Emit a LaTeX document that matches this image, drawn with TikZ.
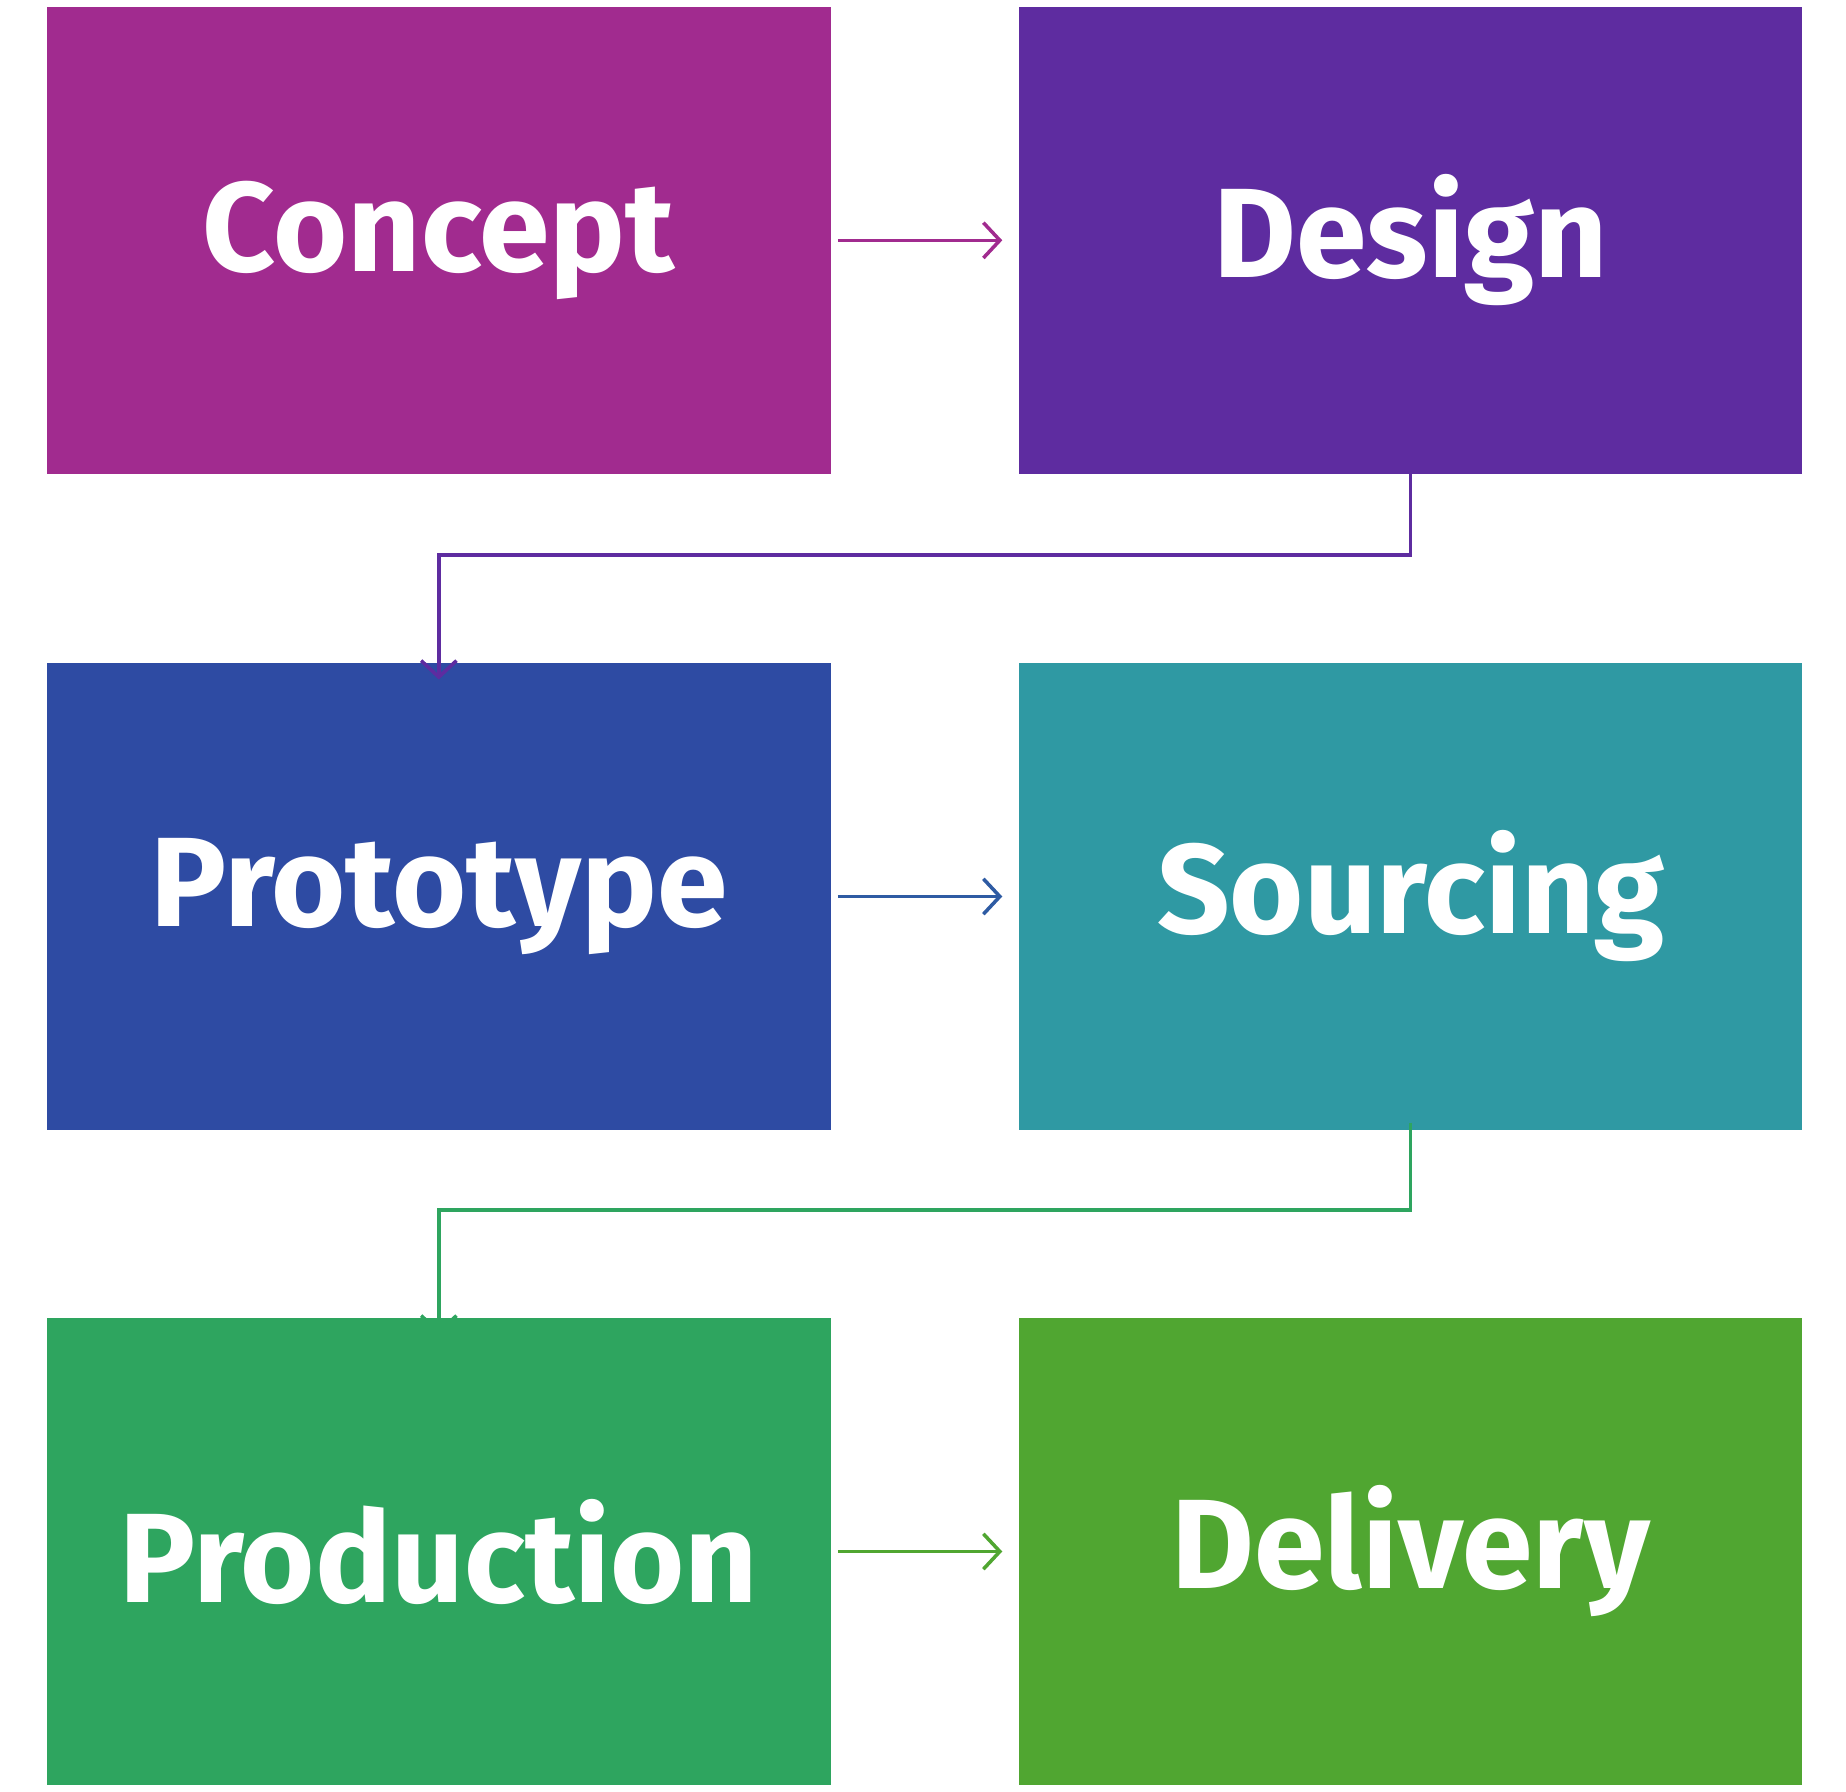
\documentclass[tikz,border=0pt]{standalone}
\usepackage{fontspec}
\setmainfont{Fira Sans}
\usetikzlibrary{arrows.meta}
\definecolor{cA}{HTML}{A12B8F}
\definecolor{cB}{HTML}{5E2CA0}
\definecolor{cC}{HTML}{2E4BA3}
\definecolor{cD}{HTML}{2F99A3}
\definecolor{cE}{HTML}{2EA55F}
\definecolor{cF}{HTML}{50A631}
\begin{document}
\begin{tikzpicture}[x=1pt,y=-1pt,
  box/.style={minimum width=665pt,minimum height=396pt,inner sep=0pt,text=white,font=\fontsize{108}{120}\selectfont\bfseries},
  con/.style={line width=3pt,-{Straight Barb[length=14pt,width=30pt,line width=3pt]}}]
\useasboundingbox (0,0) rectangle (1567,1521);
\node[box,fill=cA] (a) at (372.5,204) {Concept};
\node[box,fill=cB] (b) at (1197.5,204) {Design};
\node[box,fill=cC] (c) at (372.5,761) {Prototype};
\node[box,fill=cD] (d) at (1197.5,761) {Sourcing};
\node[box,fill=cE] (e) at (372.5,1317) {Production};
\node[box,fill=cF] (f) at (1197.5,1317) {Delivery};
\draw[con,cA] ([xshift=6pt]a.east) -- ([xshift=-14pt]b.west);
\draw[con,cC!80!cD] ([xshift=6pt]c.east) -- ([xshift=-14pt]d.west);
\draw[con,cF] ([xshift=6pt]e.east) -- ([xshift=-14pt]f.west);
\draw[con,cB] ([yshift=6pt]b.south) -- ++(0,75) -| ([yshift=-14pt]c.north);
\draw[con,cE] ([yshift=6pt]d.south) -- ++(0,74) -| ([yshift=-14pt]e.north);
\end{tikzpicture}
\end{document}
